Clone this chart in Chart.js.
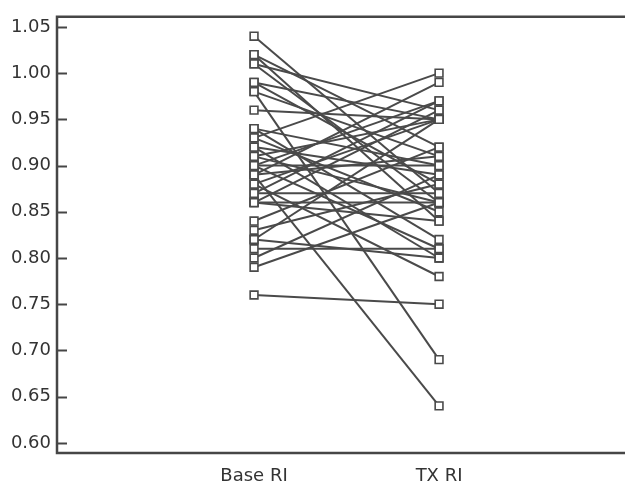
<!DOCTYPE html>
<html>
<head>
<meta charset="utf-8">
<title>Base RI vs TX RI</title>
<script src="https://cdn.jsdelivr.net/npm/chart.js@4.4.0/dist/chart.umd.min.js"></script>
<style>
    html, body { margin: 0; padding: 0; background: #fff; }
    #riChart { display: block; }
</style>
</head>
<body>
<canvas id="riChart" width="625" height="485"></canvas>
<script>
;(function() {
    "use strict";

    //* data, one entry per subject
    var categories = ['Base RI', 'TX RI'];
    var baseRI = [1.04, 1.02, 1.02, 1.01, 1.01, 0.99, 0.99, 0.98, 0.98, 0.96,
                  0.94, 0.94, 0.93, 0.93, 0.92, 0.92, 0.91, 0.91, 0.90, 0.90,
                  0.90, 0.89, 0.89, 0.89, 0.88, 0.88, 0.87, 0.87, 0.86, 0.86,
                  0.86, 0.84, 0.83, 0.82, 0.82, 0.81, 0.80, 0.79, 0.76];
    var txRI   = [0.87, 0.92, 0.84, 0.96, 0.86, 0.95, 0.88, 0.69, 0.91, 0.95,
                  0.90, 0.82, 1.00, 0.85, 0.89, 0.80, 0.95, 0.86, 0.97, 0.90,
                  0.81, 0.99, 0.64, 0.91, 0.78, 0.95, 0.97, 0.87, 0.86, 0.96,
                  0.84, 0.92, 0.88, 0.95, 0.80, 0.81, 0.89, 0.86, 0.75];
    var yTicks = [0.60, 0.65, 0.70, 0.75, 0.80, 0.85, 0.90, 0.95, 1.00, 1.05];

    var ink = '#4a4a4a';
    var labelFont = { family: 'DejaVu Sans, Liberation Sans, sans-serif', size: 18 };

    //* one dataset per subject, Base at x=1, TX at x=2
    var datasets = [];
    for (var i = 0; i < baseRI.length; i++) {
        datasets.push({
            data: [{ x: 1, y: baseRI[i] }, { x: 2, y: txRI[i] }],
            borderColor: ink,
            borderWidth: 2,
            pointStyle: 'rect',
            pointRadius: 5.5,
            pointBorderWidth: 1.6,
            pointBorderColor: ink,
            pointBackgroundColor: '#ffffff',
            showLine: true,
            fill: false
        });
    }

    /*--------------- frame + inward ticks ---------------*/
    var framePlugin = {
        id: 'frame',
        afterDraw: function(chart) {
            var ctx = chart.ctx;
            var area = chart.chartArea;
            var yScale = chart.scales.y;
            ctx.save();
            ctx.strokeStyle = '#464646';
            ctx.lineWidth = 2.5;
            ctx.beginPath();
            ctx.moveTo(area.right, area.top);
            ctx.lineTo(area.left, area.top);
            ctx.lineTo(area.left, area.bottom);
            ctx.lineTo(area.right, area.bottom);
            ctx.stroke();

            ctx.lineWidth = 2;
            yTicks.forEach(function(v) {
                var py = Math.round(yScale.getPixelForValue(v)) + 0.5;
                ctx.beginPath();
                ctx.moveTo(area.left, py);
                ctx.lineTo(area.left + 10, py);
                ctx.stroke();
            });
            ctx.restore();
        }
    };

    var ctx = document.getElementById('riChart').getContext('2d');
    var riChart = new Chart(ctx, {
        type: 'scatter',
        data: { datasets: datasets },
        options: {
            responsive: false,
            animation: false,
            layout: { autoPadding: false, padding: { top: 14, right: 0, left: 0, bottom: 0 } },
            plugins: {
                legend: { display: false },
                tooltip: { enabled: false }
            },
            scales: {
                x: {
                    type: 'linear',
                    min: -0.065,
                    max: 3.005,
                    afterBuildTicks: function(scale) {
                        scale.ticks = categories.map(function(c, idx) { return { value: idx + 1 }; });
                    },
                    afterFit: function(scale) { scale.height = 32; },
                    grid: { display: false },
                    border: { display: false },
                    ticks: {
                        padding: 5,
                        color: '#333',
                        font: labelFont,
                        callback: function(value) { return categories[value - 1]; }
                    }
                },
                y: {
                    min: 0.589,
                    max: 1.061,
                    afterBuildTicks: function(scale) {
                        scale.ticks = yTicks.map(function(v) { return { value: v }; });
                    },
                    afterFit: function(scale) { scale.width = 57; },
                    grid: { display: false, drawTicks: false },
                    border: { display: false },
                    ticks: {
                        padding: 6,
                        color: '#333',
                        font: labelFont,
                        callback: function(value) { return Number(value).toFixed(2); }
                    }
                }
            }
        },
        plugins: [framePlugin]
    });

})();
</script>
</body>
</html>
